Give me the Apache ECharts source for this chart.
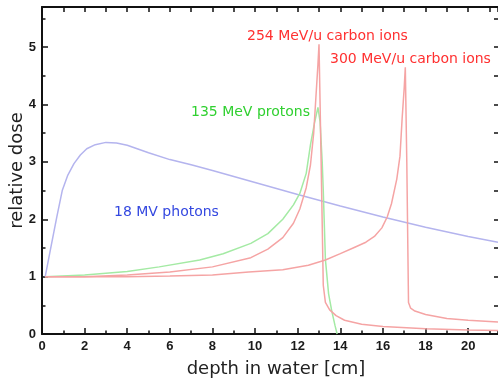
<!DOCTYPE html>
<html>
<head>
<meta charset="utf-8">
<script src="https://cdn.jsdelivr.net/npm/echarts@6/dist/echarts.min.js"></script>
<style>
  html, body { margin: 0; padding: 0; background: #fff; }
  #chart { width: 498px; height: 381px; }
</style>
</head>
<body>
<div id="chart"></div>
<script>
// depth in water [cm] vs relative dose
const photonX = [0.15, 0.4, 0.7, 0.95, 1.2, 1.5, 1.8, 2.1, 2.5, 3.0, 3.5, 4.0, 5.0, 6.0, 7.0, 8.0, 10, 12, 14, 16, 18, 20, 21.4]
const photonY = [1.0, 1.48, 2.05, 2.5, 2.76, 2.97, 3.12, 3.23, 3.3, 3.34, 3.33, 3.29, 3.16, 3.04, 2.95, 2.85, 2.64, 2.43, 2.23, 2.04, 1.86, 1.7, 1.6]

const protonX = [0.15, 2, 4, 5.5, 7.4, 8.5, 9.8, 10.6, 11.3, 11.8, 12.1, 12.4, 12.6, 12.8, 12.95, 13.05, 13.15, 13.2, 13.3, 13.45, 13.6, 13.75, 13.85]
const protonY = [1.0, 1.03, 1.09, 1.17, 1.29, 1.4, 1.58, 1.75, 2.0, 2.25, 2.45, 2.8, 3.3, 3.7, 3.95, 3.7, 3.0, 2.5, 1.3, 0.7, 0.4, 0.15, 0.0]

const carbon254X = [0.15, 2, 4, 6, 8, 9.8, 10.6, 11.3, 11.8, 12.1, 12.4, 12.6, 12.75, 12.85, 12.95, 13.0, 13.1, 13.2, 13.3, 13.5, 13.8, 14.2, 15, 16, 18, 20, 21.4]
const carbon254Y = [1.0, 1.0, 1.03, 1.08, 1.17, 1.33, 1.48, 1.68, 1.93, 2.18, 2.55, 2.95, 3.5, 4.1, 4.7, 5.05, 3.0, 0.85, 0.55, 0.42, 0.32, 0.24, 0.17, 0.13, 0.09, 0.07, 0.06]

const carbon300X = [0.15, 2, 4, 6, 8, 9.7, 11.3, 12.5, 13.3, 14.0, 14.6, 15.2, 15.6, 15.95, 16.2, 16.4, 16.65, 16.8, 16.9, 17.0, 17.05, 17.12, 17.2, 17.3, 17.5, 18, 19, 20, 21.4]
const carbon300Y = [1.0, 1.0, 1.0, 1.01, 1.03, 1.08, 1.12, 1.2, 1.29, 1.4, 1.5, 1.6, 1.7, 1.85, 2.04, 2.27, 2.7, 3.1, 3.75, 4.3, 4.65, 3.0, 0.55, 0.45, 0.4, 0.34, 0.27, 0.24, 0.21]

const labels = [
  { text: '254 MeV/u carbon ions', x: 247, y: 37, color: '#ff3030' },
  { text: '300 MeV/u carbon ions', x: 330, y: 60, color: '#ff3030' },
  { text: '135 MeV protons', x: 191, y: 113, color: '#30d030' },
  { text: '18 MV photons', x: 114, y: 213, color: '#3448e0' },
]

const X_MAX = 21.4
const Y_MAX = 5.7

const pairs = (xs, ys) => xs.map((x, i) => [x, ys[i]])

const chart = echarts.init(document.getElementById('chart'))

const tickFont = { color: '#1a1a1a', fontSize: 13, fontWeight: 'bold', fontFamily: 'Liberation Sans' }
const nameFont = { color: '#222', fontSize: 18, fontFamily: 'DejaVu Sans' }
const axisLine = { show: true, onZero: false, lineStyle: { color: '#111', width: 2 } }
const noLine = { show: false, onZero: false }
const tick = (length) => ({ show: true, inside: true, length, lineStyle: { color: '#111', width: 1.5 } })

function xAxis(opts) {
  return Object.assign({
    type: 'value', min: 0, max: X_MAX, position: 'bottom',
    splitLine: { show: false }, axisLine: noLine, axisLabel: { show: false },
  }, opts)
}
function yAxis(opts) {
  return Object.assign({
    type: 'value', min: 0, max: Y_MAX, position: 'left',
    splitLine: { show: false }, axisLine: noLine, axisLabel: { show: false },
  }, opts)
}

function line(name, data, color) {
  return {
    name, type: 'line', data, showSymbol: false, symbol: 'none',
    lineStyle: { color, width: 1.5 }, xAxisIndex: 0, yAxisIndex: 0,
  }
}

chart.setOption({
  animation: false,
  grid: { left: 42, top: 7, right: 0, bottom: 47, containLabel: false, outerBoundsMode: 'none' },
  xAxis: [
    xAxis({
      interval: 2, axisLine, axisTick: tick(6),
      axisLabel: { show: true, margin: 6, showMaxLabel: false, ...tickFont },
      name: 'depth in water [cm]', nameLocation: 'middle', nameGap: 26, nameMoveOverlap: false,
      nameTextStyle: { ...nameFont, padding: [0, 0, 0, 12] },
    }),
    xAxis({ interval: 1, axisTick: tick(3.5) }),
    xAxis({ position: 'top', interval: 1, axisLine, axisTick: tick(5) }),
  ],
  yAxis: [
    yAxis({
      interval: 1, axisLine, axisTick: tick(6),
      axisLabel: { show: true, margin: 6, showMaxLabel: false, ...tickFont },
      name: 'relative dose', nameLocation: 'middle', nameGap: 16, nameRotate: 90,
      nameMoveOverlap: false, nameTextStyle: nameFont,
    }),
    yAxis({ interval: 0.5, axisTick: tick(3.5) }),
    yAxis({ position: 'right', interval: 0.5, axisTick: tick(4) }),
  ],
  graphic: labels.map(l => ({
    type: 'text', left: l.x, top: l.y - 8,
    style: { text: l.text, fill: l.color, font: '14px "DejaVu Sans"' },
    z: 10,
  })),
  series: [
    line('18 MV photons', pairs(photonX, photonY), '#b4b4ee'),
    line('135 MeV protons', pairs(protonX, protonY), '#a4eaa4'),
    line('254 MeV/u carbon ions', pairs(carbon254X, carbon254Y), '#f5a4a4'),
    line('300 MeV/u carbon ions', pairs(carbon300X, carbon300Y), '#f5a4a4'),
  ],
})
</script>
</body>
</html>
